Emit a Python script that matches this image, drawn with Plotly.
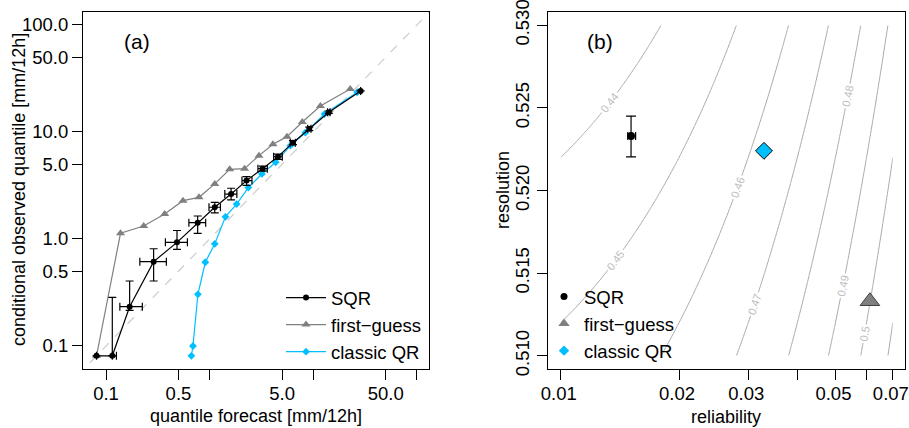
import numpy as np
import plotly.graph_objects as go

FONT = "Liberation Sans, Arial, Helvetica, sans-serif"
BLUE = "#00BFFF"
GREY = "#808080"

# ---------------- panel (a): reliability diagram of quantiles ----------------
# SQR (with bootstrap intervals)
sqr_fc = [0.081, 0.115, 0.169, 0.288, 0.484, 0.766, 1.12, 1.61, 2.27, 3.24, 4.56, 6.36, 9.14, 14.1, 28.6]
sqr_obs = [0.081, 0.081, 0.233, 0.614, 0.93, 1.42, 1.98, 2.63, 3.51, 4.54, 5.88, 7.94, 10.7, 15.3, 24.2]
sqr_fc_lo = [0.081, 0.115, 0.136, 0.212, 0.374, 0.63, 0.985, 1.40, 2.05, 2.92, 4.14, 6.0, 8.8, 13.7, 28.6]
sqr_fc_hi = [0.081, 0.126, 0.224, 0.382, 0.61, 0.915, 1.27, 1.83, 2.56, 3.60, 5.02, 6.7, 9.5, 14.5, 28.6]
sqr_obs_lo = [0.081, 0.081, 0.215, 0.405, 0.80, 1.13, 1.75, 2.32, 3.17, 4.30, 5.55, 7.6, 10.3, 14.9, 24.2]
sqr_obs_hi = [0.081, 0.285, 0.405, 0.81, 1.20, 1.64, 2.20, 2.98, 3.82, 4.80, 6.20, 8.3, 11.1, 15.7, 24.2]

# first-guess
fg_fc = [0.081, 0.138, 0.231, 0.368, 0.553, 0.789, 1.12, 1.56, 2.17, 2.99, 4.08, 5.57, 7.83, 11.7, 22.7]
fg_obs = [0.081, 1.13, 1.32, 1.71, 2.28, 2.45, 3.27, 4.48, 4.54, 6.01, 7.68, 9.04, 12.4, 17.5, 25.2]

# classic quantile regression
qr_fc = [0.666, 0.69, 0.77, 0.908, 1.12, 1.42, 1.82, 2.36, 3.19, 4.33, 6.0, 8.37, 12.8, 26.5]
qr_obs = [0.081, 0.10, 0.304, 0.606, 0.90, 1.61, 2.12, 3.02, 4.05, 5.21, 7.45, 9.84, 14.7, 23.5]

a_xticks = [0.1, 0.5, 1, 5, 10, 50, 100]
a_xlabels = ["0.1", "0.5", "", "5.0", "", "50.0", ""]
a_yticks = [0.1, 0.5, 1, 5, 10, 50, 100]
a_ylabels = ["0.1", "0.5", "1.0", "5.0", "10.0", "50.0", "100.0"]
diag = [0.01, 1000]

# ---------------- panel (b): reliability / resolution decomposition ----------------
uncertainty = 0.952
rel_sqr, res_sqr = 0.0151, 0.5233
rel_sqr_lo, rel_sqr_hi = 0.01481, 0.01551
res_sqr_lo, res_sqr_hi = 0.52204, 0.5245
rel_fg, res_fg = 0.0612, 0.5133
rel_qr, res_qr = 0.0329, 0.5224

b_xticks = [0.01, 0.02, 0.03, 0.04, 0.05, 0.06, 0.07]
b_xlabels = ["0.01", "0.02", "0.03", "", "0.05", "", "0.07"]
b_yticks = [0.510, 0.515, 0.520, 0.525, 0.530]
b_ylabels = ["0.510", "0.515", "0.520", "0.525", "0.530"]

# score = uncertainty + reliability - resolution on a grid
rel_grid = np.logspace(np.log10(0.01), np.log10(0.07), 200)
res_grid = np.linspace(0.510, 0.530, 120)
score = uncertainty + rel_grid[None, :] - res_grid[:, None]

fig = go.Figure()

# --- panel (a)
fig.add_trace(go.Scatter(x=diag, y=diag, mode="lines", showlegend=False, hoverinfo="skip",
                         line=dict(color="#cccccc", width=1.2, dash="dash"),
                         xaxis="x", yaxis="y"))
fig.add_trace(go.Scatter(x=fg_fc, y=fg_obs, mode="lines+markers", name="first\u2212guess",
                         line=dict(color=GREY, width=1.2),
                         marker=dict(symbol="triangle-up", size=8, color=GREY),
                         legend="legend", legendrank=2, xaxis="x", yaxis="y"))
fig.add_trace(go.Scatter(x=qr_fc, y=qr_obs, mode="lines+markers", name="classic QR",
                         line=dict(color=BLUE, width=1.2),
                         marker=dict(symbol="diamond", size=6, color=BLUE),
                         legend="legend", legendrank=3, xaxis="x", yaxis="y"))
fig.add_trace(go.Scatter(
    x=sqr_fc, y=sqr_obs, mode="lines+markers", name="SQR",
    line=dict(color="black", width=1.2),
    marker=dict(symbol="circle", size=6, color="black"),
    error_x=dict(type="data", symmetric=False,
                 array=[h - v for h, v in zip(sqr_fc_hi, sqr_fc)],
                 arrayminus=[v - l for v, l in zip(sqr_fc, sqr_fc_lo)],
                 color="black", thickness=1.2, width=4),
    error_y=dict(type="data", symmetric=False,
                 array=[h - v for h, v in zip(sqr_obs_hi, sqr_obs)],
                 arrayminus=[v - l for v, l in zip(sqr_obs, sqr_obs_lo)],
                 color="black", thickness=1.2, width=4),
    legend="legend", legendrank=1, xaxis="x", yaxis="y"))

# --- panel (b)
fig.add_trace(go.Contour(
    x=rel_grid, y=res_grid, z=score, xaxis="x2", yaxis="y2",
    showscale=False, hoverinfo="skip", showlegend=False,
    colorscale=[[0, "#a8a8a8"], [1, "#a8a8a8"]],
    line=dict(width=1),
    contours=dict(coloring="lines", start=0.44, end=0.51, size=0.01,
                  showlabels=True, labelformat=".2~f",
                  labelfont=dict(family=FONT, size=11, color="#bdbdbd"))))
fig.add_trace(go.Scatter(
    x=[rel_sqr], y=[res_sqr], mode="markers", showlegend=False,
    marker=dict(symbol="circle", size=8, color="black"),
    error_x=dict(type="data", symmetric=False, array=[rel_sqr_hi - rel_sqr],
                 arrayminus=[rel_sqr - rel_sqr_lo], color="black", thickness=1.2, width=4),
    error_y=dict(type="data", symmetric=False, array=[res_sqr_hi - res_sqr],
                 arrayminus=[res_sqr - res_sqr_lo], color="black", thickness=1.2, width=5),
    xaxis="x2", yaxis="y2"))
fig.add_trace(go.Scatter(x=[rel_fg], y=[res_fg], mode="markers", showlegend=False,
                         marker=dict(symbol="triangle-up", size=17, color=GREY,
                                     line=dict(color="#404040", width=1)),
                         xaxis="x2", yaxis="y2"))
fig.add_trace(go.Scatter(x=[rel_qr], y=[res_qr], mode="markers", showlegend=False,
                         marker=dict(symbol="diamond", size=13, color=BLUE,
                                     line=dict(color="black", width=1)),
                         xaxis="x2", yaxis="y2"))

# legend entries of panel (b): symbols only
for name, sym, size, col, rank in [("SQR", "circle", 7, "black", 1),
                                   ("first\u2212guess", "triangle-up", 10, GREY, 2),
                                   ("classic QR", "diamond", 8, BLUE, 3)]:
    fig.add_trace(go.Scatter(x=[None], y=[None], mode="markers", name=name,
                             marker=dict(symbol=sym, size=size, color=col),
                             legend="legend2", legendrank=rank, xaxis="x2", yaxis="y2"))

W, H = 909, 428
def px(v):
    return v / W
def py(v):
    return 1 - v / H

TICK_SIZE = 18.5
axis_common = dict(showgrid=False, zeroline=False, showline=True, mirror=True,
                   linecolor="black", linewidth=1, ticks="outside", ticklen=10,
                   tickcolor="black", tickwidth=1, automargin=False,
                   ticklabeloverflow="allow",
                   tickfont=dict(family=FONT, size=TICK_SIZE, color="black"))

title_font = dict(family=FONT, size=18, color="black")

fig.update_layout(
    width=W, height=H, margin=dict(l=0, r=0, t=0, b=0),
    paper_bgcolor="white", plot_bgcolor="white",
    font=dict(family=FONT, size=18.5, color="black"),
    xaxis=dict(axis_common, domain=[px(83), px(429)], type="log", range=[-1.222, 2.116],
               tickvals=a_xticks, ticktext=a_xlabels, anchor="y", ticklabelstandoff=-2),
    yaxis=dict(axis_common, domain=[1 - 369 / H, 1 - 12 / H], type="log", range=[-1.215, 2.121],
               tickvals=a_yticks, ticktext=a_ylabels, anchor="x"),
    xaxis2=dict(axis_common, domain=[px(547.7), px(905)], type="log", range=[-2.0331, -1.124],
                tickvals=b_xticks, ticktext=b_xlabels, anchor="y2", ticklabelstandoff=-2,
                ticklabelshift=-2),
    yaxis2=dict(axis_common, domain=[1 - 369 / H, 1 - 12 / H], range=[0.5092, 0.5308],
                tickvals=b_yticks, ticktext=b_ylabels, tickangle=-90, anchor="x2"),
    legend=dict(x=px(281), y=py(325), xanchor="left", yanchor="middle",
                bgcolor="rgba(0,0,0,0)", font=dict(family=FONT, size=18.5),
                traceorder="normal", itemwidth=40, tracegroupgap=0),
    legend2=dict(x=px(544), y=py(324), xanchor="left", yanchor="middle",
                 bgcolor="rgba(0,0,0,0)", font=dict(family=FONT, size=18.5),
                 traceorder="normal", itemsizing="trace", itemwidth=30, tracegroupgap=0),
    annotations=[
        # panel tags
        dict(text="(a)", x=px(137), y=py(42), xref="paper", yref="paper",
             xanchor="center", yanchor="middle",
             showarrow=False, font=dict(family=FONT, size=21)),
        dict(text="(b)", x=px(600), y=py(42), xref="paper", yref="paper",
             xanchor="center", yanchor="middle",
             showarrow=False, font=dict(family=FONT, size=21)),
        # axis titles
        dict(text="quantile forecast [mm/12h]", x=px(256), y=py(416), xref="paper", yref="paper",
             xanchor="center", yanchor="middle", showarrow=False, font=title_font),
        dict(text="conditional observed quantile [mm/12h]", x=px(19), y=py(190), textangle=-90,
             xref="paper", yref="paper", xanchor="center", yanchor="middle",
             showarrow=False, font=title_font),
        dict(text="reliability", x=px(726), y=py(417), xref="paper", yref="paper",
             xanchor="center", yanchor="middle", showarrow=False, font=title_font),
        dict(text="resolution", x=px(503), y=py(190), textangle=-90,
             xref="paper", yref="paper", xanchor="center", yanchor="middle",
             showarrow=False, font=title_font),
    ],
)

fig.write_html("out.html")
